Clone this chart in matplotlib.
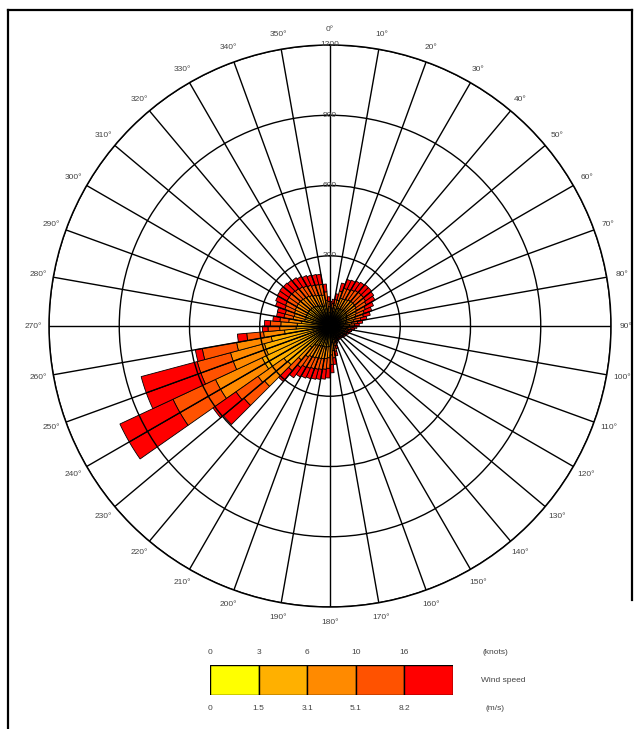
import numpy as np
import matplotlib
matplotlib.use("Agg")
import matplotlib.pyplot as plt
from matplotlib.lines import Line2D

plt.rcParams['font.family'] = ['Liberation Sans', 'DejaVu Sans']

# ---- data: 5-degree direction bins (start angle), counts per wind-speed class ----
dir_start = list(range(0, 360, 5))
calm_0_15 = [25, 25, 28, 30, 32, 32, 32, 33, 33, 33, 32, 32, 30, 30, 28, 28, 26, 25,
             24, 23, 22, 22, 21, 20, 20, 20, 19, 19, 19, 18, 19, 20, 22, 24, 26, 28,
             30, 30, 30, 30, 30, 30, 30, 30, 30, 35, 35, 40, 40, 40, 40, 35, 35, 35,
             35, 32, 30, 30, 30, 30, 30, 30, 30, 30, 30, 30, 30, 30, 30, 30, 28, 25]
spd_15_31 = [30, 30, 35, 45, 50, 50, 52, 53, 55, 55, 54, 52, 50, 46, 44, 40, 36, 32,
             30, 28, 26, 25, 24, 23, 22, 21, 20, 20, 20, 20, 20, 23, 28, 35, 44, 52,
             58, 60, 61, 62, 63, 65, 67, 72, 90, 200, 205, 280, 280, 250, 250, 220, 160, 110,
             105, 90, 80, 78, 80, 80, 80, 80, 78, 76, 74, 70, 66, 62, 60, 58, 45, 33]
spd_31_51 = [20, 22, 27, 40, 45, 46, 48, 50, 50, 50, 50, 48, 45, 42, 40, 36, 30, 26,
             24, 22, 20, 18, 17, 16, 16, 15, 15, 14, 14, 14, 14, 16, 20, 28, 36, 44,
             48, 50, 51, 52, 53, 55, 56, 60, 70, 130, 135, 220, 220, 150, 150, 150, 90, 70,
             70, 55, 50, 50, 52, 54, 55, 55, 55, 54, 53, 52, 50, 49, 48, 47, 38, 25]
spd_51_82 = [15, 20, 25, 40, 45, 46, 48, 50, 50, 50, 50, 48, 42, 38, 36, 30, 26, 22,
             20, 17, 15, 14, 13, 12, 11, 11, 10, 9, 9, 9, 9, 12, 16, 23, 31, 40,
             45, 46, 47, 48, 49, 50, 52, 55, 60, 115, 115, 200, 200, 147, 147, 149, 72, 50,
             45, 38, 40, 40, 44, 46, 48, 49, 49, 49, 48, 47, 47, 46, 46, 46, 36, 22]
spd_82_up = [15, 18, 25, 35, 40, 42, 42, 42, 44, 44, 42, 42, 38, 34, 30, 26, 22, 20,
             17, 15, 12, 11, 10, 9, 9, 8, 8, 8, 8, 7, 8, 9, 14, 20, 28, 36,
             41, 42, 43, 44, 45, 46, 47, 53, 60, 115, 120, 250, 250, 248, 248, 30, 40, 24,
             25, 30, 32, 35, 42, 46, 47, 48, 48, 47, 47, 46, 45, 45, 44, 44, 33, 20]

class_colors = ['#FFFF00', '#FFB000', '#FF8A00', '#FF5200', '#FF0000']
knots_labels = ['0', '3', '6', '10', '16']
ms_labels = ['0', '1.5', '3.1', '5.1', '8.2']
ring_values = [300, 600, 900, 1200]
angle_labels = [f"{a}\u00b0" for a in range(0, 360, 10)]

W, H = 641, 729
fig = plt.figure(figsize=(W / 100, H / 100), dpi=100)

cx, cy, R = 330, 326, 281
ax = fig.add_axes([(cx - R) / W, (H - cy - R) / H, 2 * R / W, 2 * R / H], projection='polar')
ax.set_theta_zero_location('N')
ax.set_theta_direction(-1)
ax.set_ylim(0, 1200)

classes = [calm_0_15, spd_15_31, spd_31_51, spd_51_82, spd_82_up]
theta = np.deg2rad(np.array(dir_start, dtype=float))
width = np.deg2rad(5.0)
bottom = np.zeros(len(dir_start))
for vals, col in zip(classes, class_colors):
    v = np.array(vals, dtype=float)
    ax.bar(theta, v, width=width, bottom=bottom, align='edge', color=col,
           edgecolor='black', linewidth=0.6, zorder=1)
    bottom += v

ax.set_thetagrids(np.arange(0, 360, 10), labels=[''] * 36)
ax.set_rgrids(ring_values, labels=[''] * 4)
ax.grid(True, color='black', linewidth=1.0)
ax.set_axisbelow(False)
ax.spines['polar'].set_color('black')
ax.spines['polar'].set_linewidth(1.1)
ax.tick_params(length=0)

for a, lab in zip(range(0, 360, 10), angle_labels):
    ax.text(np.deg2rad(a), 1265, lab, ha='center', va='center', fontsize=6,
            color='#444444', clip_on=False)
for rv in ring_values:
    ax.text(0, rv, str(rv), ha='center', va='center', fontsize=6, color='#444444')

# legend colour bar
lx0, lx1, ly0, ly1 = 210, 453, 665, 695
lax = fig.add_axes([lx0 / W, (H - ly1) / H, (lx1 - lx0) / W, (ly1 - ly0) / H])
lax.bar(np.arange(5), [1] * 5, width=1, align='edge', color=class_colors,
        edgecolor='black', linewidth=1.0)
lax.set_xlim(0, 5)
lax.set_ylim(0, 1)
lax.axis('off')
cell = (lx1 - lx0) / 5
for i in range(5):
    xx = (lx0 + i * cell) / W
    fig.text(xx, (H - 652) / H, knots_labels[i], ha='center', va='center', fontsize=6, color='#444444')
    fig.text(xx, (H - 709) / H, ms_labels[i], ha='center', va='center', fontsize=6, color='#444444')
fig.text(495 / W, (H - 652) / H, '(knots)', ha='center', va='center', fontsize=6, color='#444444')
fig.text(495 / W, (H - 709) / H, '(m/s)', ha='center', va='center', fontsize=6, color='#444444')
fig.text(503 / W, (H - 681) / H, 'Wind speed', ha='center', va='center', fontsize=6, color='#444444')

# page frame
fig.add_artist(Line2D([8 / W, 632 / W], [(H - 10) / H, (H - 10) / H], color='black', linewidth=1.6))
fig.add_artist(Line2D([8 / W, 8 / W], [(H - 10) / H, 0], color='black', linewidth=1.6))
fig.add_artist(Line2D([632 / W, 632 / W], [(H - 10) / H, (H - 600) / H], color='black', linewidth=1.6))

fig.savefig('out.png', dpi=100, facecolor='white')
